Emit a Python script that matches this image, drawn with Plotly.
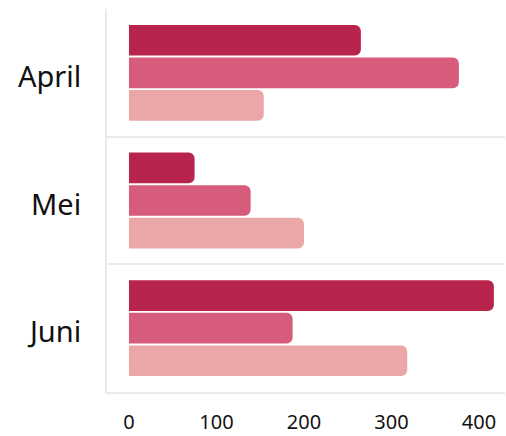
import plotly.graph_objects as go

months = ["April", "Mei", "Juni"]
series_names = ["Reeks 1", "Reeks 2", "Reeks 3"]
series_values = [
    [265, 75, 417],
    [377, 139, 187],
    [154, 200, 318],
]
colors = ["#b9244d", "#d75c7b", "#eba7a8"]
x_ticks = [0, 100, 200, 300, 400]

fig = go.Figure()
for name, vals, col in zip(series_names, series_values, colors):
    fig.add_trace(go.Bar(
        y=months, x=vals, name=name, orientation="h",
        marker=dict(color=col, cornerradius=6, line=dict(width=0)),
    ))

fig.update_layout(
    width=506, height=436,
    margin=dict(l=107, r=1, t=9, b=44, autoexpand=False),
    barmode="group", bargap=0.234, bargroupgap=0.06, barcornerradius=6,
    showlegend=False,
    plot_bgcolor="white", paper_bgcolor="white",
    font=dict(family="Noto Sans", color="#111111"),
)
fig.update_xaxes(
    range=[-25.1, 429.7], tickvals=x_ticks, showgrid=False, zeroline=False,
    showline=True, linecolor="#ebebeb", linewidth=2,
    tickfont=dict(size=20), ticklabelstandoff=11, automargin=False,
)
fig.update_yaxes(
    autorange="reversed", tickson="boundaries", showgrid=True,
    gridcolor="#ebebeb", gridwidth=2, showline=True, linecolor="#ebebeb",
    linewidth=2, ticks="", tickfont=dict(size=29), ticklabelstandoff=18,
    ticklabelshift=-4, automargin=False,
)
fig.write_html(
    "out.html",
    config={"displayModeBar": False},
    post_script="document.body.style.margin='0';document.body.style.overflow='hidden';",
)
